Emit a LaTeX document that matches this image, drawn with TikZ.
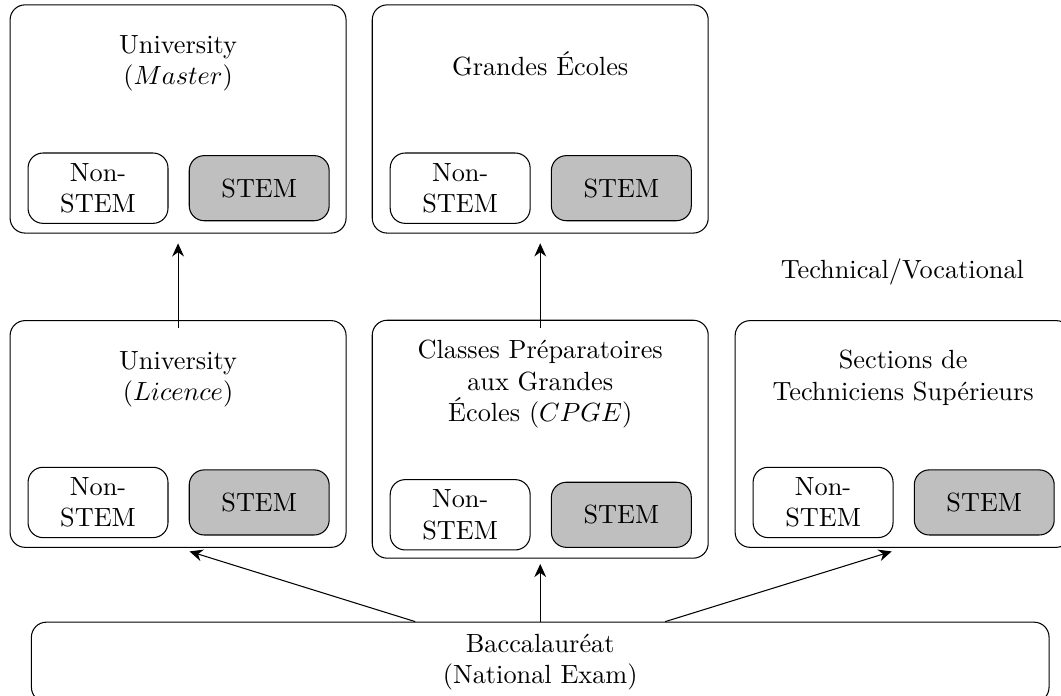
\documentclass[tikz,border=0pt]{standalone}
\usetikzlibrary{positioning,arrows.meta}

\begin{document}
\begin{tikzpicture}[
    box/.style={draw, rounded corners=0.2cm, minimum width=4.49cm, minimum height=3.05cm},
    title/.style={align=center},
    nonstem/.style={draw, rounded corners=0.2cm, align=center, minimum width=1.87cm, minimum height=0.94cm},
    stem/.style={nonstem, fill=gray!50, minimum height=0.87cm},
    arr/.style={-{Stealth[length=5pt, width=4.5pt]}}
]
    \useasboundingbox (0,0) rectangle (14.18,-9.30);

    % Top row
    \node[box] (master) at (2.38,-1.59) {};
    \node[title] (mastertitle) at ([yshift=-0.79cm]master.north) {University\\($Master$)};
    \node[nonstem, anchor=south west] (mastern) at ([shift={(0.24,0.13)}]master.south west) {Non-\\STEM};
    \node[stem, right=0.27cm of mastern] (masters) {STEM};

    \node[box] (grandes) at (7.22,-1.59) {};
    \node[title] (grandestitle) at ([yshift=-0.80cm]grandes.north) {Grandes \'Ecoles};
    \node[nonstem, anchor=south west] (grandesn) at ([shift={(0.24,0.13)}]grandes.south west) {Non-\\STEM};
    \node[stem, right=0.27cm of grandesn] (grandess) {STEM};

    \node (techvoc) at (12.06,-3.64) {Technical/Vocational};

    % Middle row
    \node[box, minimum height=3.03cm] (licence) at (2.38,-5.80) {};
    \node[title] (licencetitle) at ([yshift=-0.79cm]licence.north) {University\\($Licence$)};
    \node[nonstem, anchor=south west] (licencen) at ([shift={(0.24,0.13)}]licence.south west) {Non-\\STEM};
    \node[stem, right=0.27cm of licencen] (licences) {STEM};

    \node[box, minimum height=3.18cm] (cpge) at (7.22,-5.87) {};
    \node[title] (cpgetitle) at ([yshift=-0.86cm]cpge.north) {Classes Pr\'eparatoires\\aux Grandes\\\'Ecoles ($CPGE$)};
    \node[nonstem, anchor=south west] (cpgen) at ([shift={(0.24,0.11)}]cpge.south west) {Non-\\STEM};
    \node[stem, right=0.27cm of cpgen] (cpges) {STEM};

    \node[box, minimum height=3.03cm] (sts) at (12.07,-5.80) {};
    \node[title] (ststitle) at ([yshift=-0.77cm]sts.north) {Sections de\\Techniciens Sup\'erieurs};
    \node[nonstem, anchor=south west] (stsn) at ([shift={(0.24,0.13)}]sts.south west) {Non-\\STEM};
    \node[stem, right=0.27cm of stsn] (stss) {STEM};

    % Bottom
    \node[draw, rounded corners=0.2cm, align=center, minimum width=13.60cm, minimum height=1.07cm] (bac) at (7.22,-8.85) {Baccalaur\'eat\\(National Exam)};

    % Arrows
    \draw[arr, shorten >=0.13cm] ([yshift=-0.11cm]licence.north) -- (master.south);
    \draw[arr, shorten >=0.13cm] ([yshift=-0.11cm]cpge.north) -- (grandes.south);
    \draw[arr, shorten >=0.16cm] ([xshift=-1.67cm]bac.north) -- (licence.south);
    \draw[arr, shorten >=0.07cm] (bac.north) -- (cpge.south);
    \draw[arr, shorten >=0.16cm] ([xshift=1.67cm]bac.north) -- (sts.south);
\end{tikzpicture}
\end{document}
